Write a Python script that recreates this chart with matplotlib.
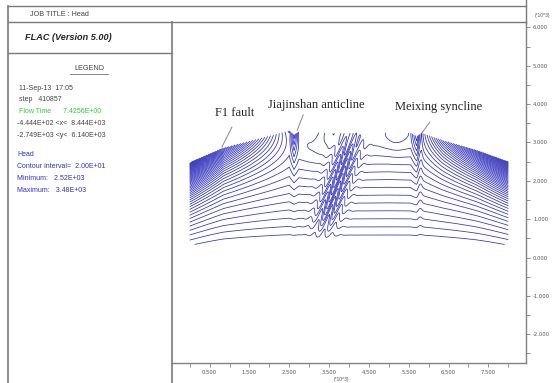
import numpy as np
import matplotlib.pyplot as plt
from matplotlib.ticker import MultipleLocator, FormatStrFormatter

# ---- values (lengths in 10^3 m, heads in m) ----
# top surface of the section
top_x = [0.00, 0.85, 1.85, 2.50, 2.62, 2.74, 3.00, 3.60, 4.30, 5.00, 5.55, 5.70, 5.82, 6.35, 7.20, 8.00]
top_y = [2.48, 2.86, 3.13, 3.31, 3.20, 3.29, 3.27, 3.24, 3.25, 3.26, 3.25, 3.16, 3.25, 3.06, 2.80, 2.50]
base_y = 0.34

# head at depth (linear between two depths) and how fast surface head fades
deep_y = [0.34, 3.25]
deep_head = [3505, 3242]
skin_depth = 0.6

# local folds: centre x, centre y, amplitude, spread x, spread y
fold_x = [3.10, 5.15, 2.62]
fold_y = [3.35, 3.35, 3.30]
fold_amp = [30, -30, -15]
fold_sx = [0.28, 0.35, 0.10]
fold_sy = [0.40, 0.55, 0.35]

# Jiajinshan anticline band (end points), amplitude, half width, zigzag period
band_x = [3.40, 4.05]
band_y = [0.95, 3.00]
band_amp = 40
band_w = 0.30
band_period = 0.22

# Meixing syncline axis
axis_x = 5.78
axis_amp = 25
axis_w = 0.06

head_min, head_max, head_step = 2520, 3480, 20

xlim = (-0.444, 8.444)
ylim = (-2.749, 6.140)

legend_lines = [
    ("11-Sep-13  17:05", "#444444"),
    ("step   410857", "#444444"),
    ("Flow Time      7.4256E+00", "#33cc33"),
    ("-4.444E+02 <x<  8.444E+03", "#444444"),
    ("-2.749E+03 <y<  6.140E+03", "#444444"),
]
head_lines = [
    "Head",
    "Contour interval=  2.00E+01",
    "Minimum:   2.52E+03",
    "Maximum:   3.48E+03",
]

# ---- head field ----
xg = np.linspace(top_x[0], top_x[-1], 1400)
yg = np.linspace(base_y, max(top_y) + 0.05, 700)
X, Y = np.meshgrid(xg, yg)
T = np.interp(X, top_x, top_y)
E = 1000 * T
slope = (deep_head[1] - deep_head[0]) / (deep_y[1] - deep_y[0])
D = deep_head[0] + slope * (Y - deep_y[0])
w = np.exp(-(T - Y) / skin_depth)
H = D - (D - E) * w

for cx, cy, a, sx, sy in zip(fold_x, fold_y, fold_amp, fold_sx, fold_sy):
    H += a * np.exp(-((X - cx) / sx) ** 2 - ((Y - cy) / sy) ** 2)

bx0, by0 = np.mean(band_x), np.mean(band_y)
dx, dy = band_x[1] - band_x[0], band_y[1] - band_y[0]
L = np.hypot(dx, dy)
ux, uy = dx / L, dy / L
u = (X - bx0) * uy - (Y - by0) * ux
v = ((X - bx0) * ux + (Y - by0) * uy) / (0.6 * L)
H += band_amp * np.sin(2 * np.pi * u / band_period) * np.exp(-(u / band_w) ** 2 - v ** 4)

H += axis_amp * np.exp(-((X - axis_x) / axis_w) ** 2) * (Y - base_y) / 3.0

H = np.ma.masked_where(Y > T, H)

# ---- figure ----
W, Hpx = 552, 383
fig = plt.figure(figsize=(W / 100, Hpx / 100), dpi=100)

x0, x1, y0, y1 = 172, 526, 22, 363
ax = fig.add_axes([x0 / W, 1 - y1 / Hpx, (x1 - x0) / W, (y1 - y0) / Hpx])
levels = np.arange(head_min, head_max + 1, head_step)
ax.contour(X, Y, H, levels=levels, colors="#3030bc", linewidths=0.55)
ax.set_xlim(*xlim)
ax.set_ylim(*ylim)

for s in ("left", "top"):
    ax.spines[s].set_visible(False)
for s in ("right", "bottom"):
    ax.spines[s].set_color("#808080")
    ax.spines[s].set_linewidth(1.0)
ax.yaxis.tick_right()
ax.xaxis.set_major_locator(MultipleLocator(1.0, offset=0.5))
ax.xaxis.set_minor_locator(MultipleLocator(1.0))
ax.yaxis.set_major_locator(MultipleLocator(1.0))
ax.yaxis.set_minor_locator(MultipleLocator(0.5))
ax.xaxis.set_major_formatter(FormatStrFormatter("%.3f"))
ax.yaxis.set_major_formatter(FormatStrFormatter("%.3f"))
ax.tick_params(which="both", direction="out", length=3, width=0.6, color="#808080",
               labelsize=3.8, labelcolor="#555555", pad=2)

# annotations
ann_font = dict(family="Liberation Serif", fontsize=9, color="#222222")
ax.text(1.14, 3.77, "F1 fault", ha="center", va="center", **ann_font)
ax.text(1.97, 3.98, "Jiajinshan anticline", ha="left", va="center", **ann_font)
ax.text(5.16, 3.92, "Meixing syncline", ha="left", va="center", **ann_font)
for (xa, ya), (xb, yb) in [((1.06, 3.40), (0.81, 2.88)),
                           ((2.85, 3.72), (2.70, 3.32)),
                           ((6.03, 3.53), (5.83, 3.25))]:
    ax.plot([xa, xb], [ya, yb], color="#888888", lw=0.7)

# overlay in pixel coordinates for the FLAC frame and legend
ov = fig.add_axes([0, 0, 1, 1], facecolor="none")
ov.set_xlim(0, W)
ov.set_ylim(Hpx, 0)
ov.axis("off")
fc = "#7a7a7a"
ov.plot([8, 526], [6, 6], color=fc, lw=1.0)
ov.plot([8, 526], [22, 22], color=fc, lw=1.0)
ov.plot([8, 8], [6, 383], color=fc, lw=1.2)
ov.plot([172, 172], [22, 383], color=fc, lw=1.2)
ov.plot([8, 172], [53, 53], color=fc, lw=1.0)
ov.plot([526, 526], [0, 22], color=fc, lw=1.0)

sans = "Liberation Sans"
ov.text(30, 14.5, "JOB TITLE : Head", fontsize=5.2, family=sans, color="#444444", va="center")
ov.text(25, 38, "FLAC (Version 5.00)", fontsize=6.6, family=sans, color="#222222",
        va="center", fontweight="bold", fontstyle="italic")
ov.text(89, 69, "LEGEND", fontsize=5.2, family=sans, color="#444444", va="center", ha="center")
ov.plot([70, 108], [73.5, 73.5], color="#555555", lw=0.5)
for i, (s, c) in enumerate(legend_lines):
    ov.text(17 if i > 2 else 19, 88 + i * 11.8, s, fontsize=5.0, family=sans, color=c, va="center")
for i, s in enumerate(head_lines):
    ov.text(17, 155 + i * 11.8, s, fontsize=5.0, family=sans, color="#3030d0", va="center")

ov.text(550, 15, "(*10^3)", fontsize=3.5, family=sans, color="#555555", ha="right", va="center")
ov.text(342, 379, "(*10^3)", fontsize=3.5, family=sans, color="#555555", ha="center", va="center")

fig.savefig("out.png", dpi=100, facecolor="white")
